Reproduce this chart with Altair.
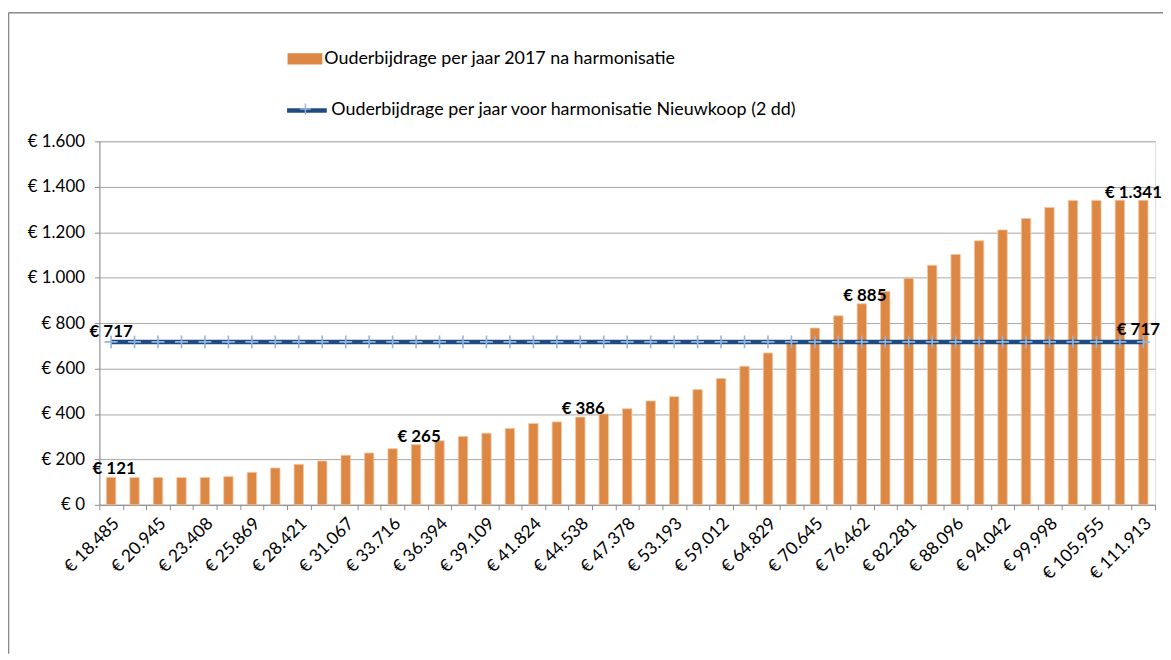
import altair as alt
import pandas as pd

# ---------------- data ----------------
income_labels = ["€ 18.485", "€ 20.945", "€ 23.408", "€ 25.869", "€ 28.421", "€ 31.067",
                 "€ 33.716", "€ 36.394", "€ 39.109", "€ 41.824", "€ 44.538", "€ 47.378",
                 "€ 53.193", "€ 59.012", "€ 64.829", "€ 70.645", "€ 76.462", "€ 82.281",
                 "€ 88.096", "€ 94.042", "€ 99.998", "€ 105.955", "€ 111.913"]
after_2017 = [121, 120, 120, 120, 120, 124, 143, 162, 178, 193,
              218, 228, 247, 265, 282, 301, 315, 336, 358, 365,
              386, 400, 423, 457, 476, 507, 556, 610, 668, 712,
              778, 832, 885, 939, 997, 1054, 1102, 1162, 1210, 1260,
              1309, 1340, 1340, 1341, 1341]
before_value = 717
bar_label_idx = [0, 13, 20, 32]
last_idx = len(after_2017) - 1
series_bar = "Ouderbijdrage per jaar 2017 na harmonisatie"
series_line = "Ouderbijdrage per jaar voor harmonisatie Nieuwkoop (2 dd)"

def euro(v):
    return "€ " + f"{v:,}".replace(",", ".")

df = pd.DataFrame({
    "idx": list(range(len(after_2017))),
    "after": after_2017,
    "before": [before_value] * len(after_2017),
})
df["s1"] = series_bar
df["s2"] = series_line
df["s3"] = " "
df["after_lbl"] = [euro(v) for v in after_2017]
df["before_lbl"] = [euro(v) for v in df["before"]]

ORANGE = "#DC8743"
NAVY = "#1F4B80"
LIGHT = "#95B3DB"
GRID = "#A6A6A6"
AXISC = "#8C8C8C"
FONT = "Lato"

W, H = 1063, 366

label_array = "[" + ",".join("'" + s + "'" for s in income_labels) + "]"
x_label_expr = f"datum.value % 2 == 0 ? {label_array}[datum.value / 2] : ''"
y_label_expr = "'€ ' + replace(format(datum.value, ','), ',', '.')"

x_enc = alt.X("idx:O",
              scale=alt.Scale(paddingInner=0, paddingOuter=0),
              axis=alt.Axis(title=None, labelAngle=-45, labelAlign="right",
                            labelBaseline="middle", labelExpr=x_label_expr,
                            labelOverlap=False, tickBand="extent", tickSize=5,
                            tickColor=AXISC, domainColor=AXISC, grid=False,
                            labelFontSize=17.5, labelColor="#000000", labelFont=FONT,
                            labelPadding=11, labelOffset=5, labelFlush=False))

bars = alt.Chart(df).mark_bar(width=alt.RelativeBandSize(0.4), stroke="#F3C7A2",
                              strokeWidth=0.8).encode(
    x=x_enc,
    y=alt.Y("after:Q", scale=alt.Scale(domain=[0, 1600]),
            axis=alt.Axis(title=None, values=list(range(0, 1601, 200)),
                          labelExpr=y_label_expr, grid=True, gridColor=GRID,
                          domainColor=AXISC, tickColor=AXISC, tickSize=5,
                          labelPadding=10, labelFontSize=17, labelColor="#000000",
                          labelFont=FONT)),
    fill=alt.Fill("s1:N", scale=alt.Scale(range=[ORANGE]),
                  legend=alt.Legend(title=None, orient="none", legendX=189.5, legendY=-100.5,
                                    symbolType="M-1,-0.32L1,-0.32L1,0.32L-1,0.32Z",
                                    symbolSize=1225, symbolStrokeWidth=0,
                                    labelOffset=2, labelFontSize=18, labelFont=FONT,
                                    labelLimit=0, labelColor="#000000", padding=0)),
)

line = alt.Chart(df).mark_line(strokeWidth=4.5).encode(
    x="idx:O",
    y="before:Q",
    stroke=alt.Stroke("s2:N", scale=alt.Scale(range=[NAVY]),
                      legend=alt.Legend(title=None, orient="none", legendX=186.5, legendY=-53.5,
                                        symbolType="stroke", symbolStrokeWidth=4.5,
                                        symbolSize=1600, labelOffset=2, labelFontSize=18,
                                        labelLimit=0, labelFont=FONT, labelColor="#000000",
                                        padding=0)),
)

PLUS = "M-1,0L1,0M0,-1L0,1"
markers = alt.Chart(df).mark_point(filled=False, size=169, strokeWidth=1.6,
                                   color=LIGHT, opacity=1).encode(
    x="idx:O",
    y="before:Q",
    shape=alt.Shape("s3:N", scale=alt.Scale(range=[PLUS]),
                    legend=alt.Legend(title=None, orient="none", legendX=201, legendY=-39,
                                      symbolSize=121, symbolStrokeColor=LIGHT,
                                      symbolFillColor="transparent", symbolStrokeWidth=1.4,
                                      labelFontSize=1, labelOpacity=0, padding=0)),
)

text_style = dict(fontWeight="bold", fontSize=17, font=FONT, color="#000000")

bar_labels = alt.Chart(df[df["idx"].isin(bar_label_idx)]).mark_text(
    baseline="alphabetic", dy=-3, dx=3, **text_style).encode(
    x="idx:O", y="after:Q", text="after_lbl:N")

last_bar_label = alt.Chart(df[df["idx"] == last_idx]).mark_text(
    baseline="alphabetic", dy=-2, dx=-10, **text_style).encode(
    x="idx:O", y="after:Q", text="after_lbl:N")

first_line_label = alt.Chart(df[df["idx"] == 0]).mark_text(
    baseline="alphabetic", dy=-5, **text_style).encode(
    x="idx:O", y="before:Q", text="before_lbl:N")

last_line_label = alt.Chart(df[df["idx"] == last_idx]).mark_text(
    baseline="alphabetic", dy=-7, dx=-5, **text_style).encode(
    x="idx:O", y="before:Q", text="before_lbl:N")

frame_df = pd.DataFrame({"k": [0]})
frame_top = alt.Chart(frame_df).mark_rule(color="#8A8A8A", strokeWidth=1.6).encode(
    x=alt.value(-91.5), x2=alt.value(W + 8), y=alt.value(-129.5))
frame_left = alt.Chart(frame_df).mark_rule(color="#8A8A8A", strokeWidth=1.6).encode(
    x=alt.value(-91.5), y=alt.value(-129.5), y2=alt.value(H + 150))

chart = alt.layer(
    bars, line, markers, bar_labels, last_bar_label, first_line_label, last_line_label,
    frame_top, frame_left
).resolve_scale(
    fill="independent", stroke="independent", shape="independent"
).properties(
    width=W, height=H,
    autosize=alt.AutoSizeParams(type="none"),
    padding={"left": 92, "top": 132, "right": 8, "bottom": 150},
).configure_view(stroke=None).configure(font=FONT)

chart.save("out.html", embed_options={"renderer": "svg", "actions": False})
